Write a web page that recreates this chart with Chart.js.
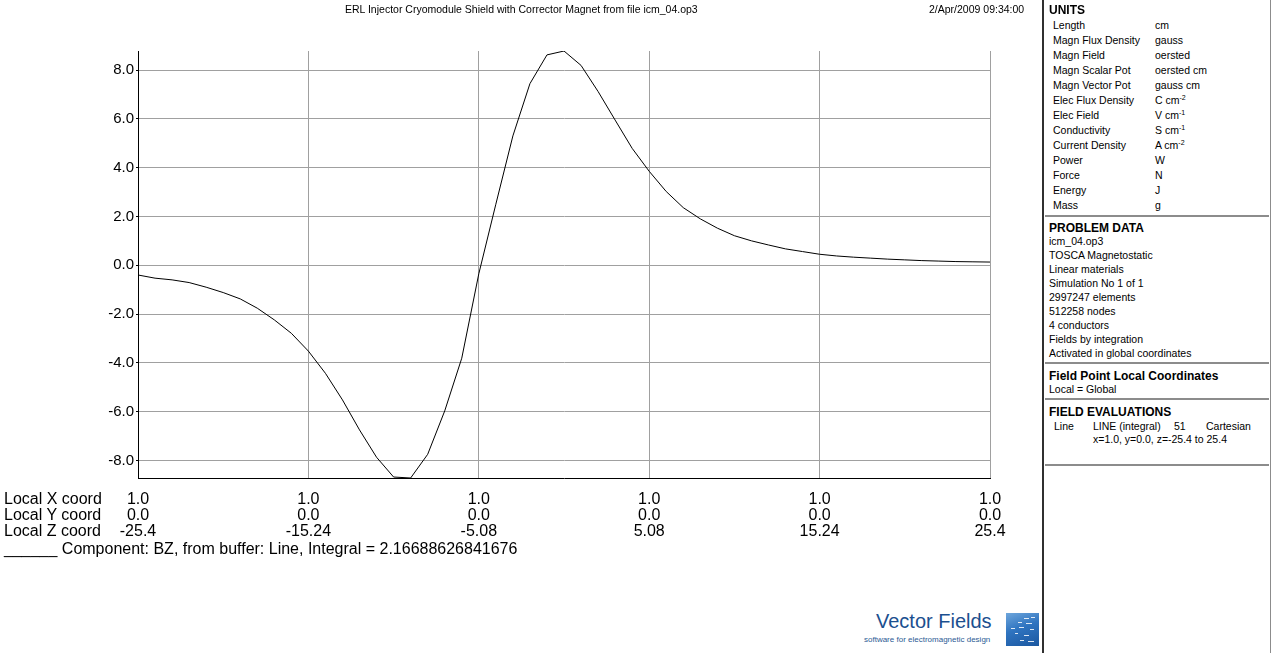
<!DOCTYPE html>
<html>
<head>
<meta charset="utf-8">
<title>ERL Injector Cryomodule Shield - BZ</title>
<script src="https://cdn.jsdelivr.net/npm/chart.js@4.4.1/dist/chart.umd.min.js"></script>
<style>
    body {
        margin: 0;
        width: 1272px;
        height: 653px;
        position: relative;
        overflow: hidden;
        background: #ffffff;
        font-family: Arial, "Liberation Sans", sans-serif;
        color: #000;
    }
    .abs { position: absolute; white-space: nowrap; }
    .small { font-size: 10.5px; line-height: 14px; }
    .axis-text { font-size: 16px; line-height: 16px; }
    .head { font-size: 12px; font-weight: bold; line-height: 14px; }
    .sep { position: absolute; left: 1045px; width: 224px; height: 2px; background: #8c8c8c; }
    sup { font-size: 7px; vertical-align: 4px; line-height: 0; }
    #panel-left { position: absolute; left: 1042px; top: 0; width: 2px; height: 653px; background: #303030; }
    #panel-right { position: absolute; left: 1270px; top: 0; width: 1px; height: 653px; background: #8c8c8c; }
    #logo-box {
        position: absolute; left: 1006px; top: 613px; width: 33px; height: 33px;
        background: linear-gradient(160deg, #6ea6dc 0%, #2f74c0 45%, #1b57a0 100%);
        overflow: hidden;
    }
    #logo-box span { position: absolute; height: 1px; background: #ffffff; opacity: 0.85; }
</style>
</head>
<body>
<canvas id="bz-chart" width="1040" height="570" style="position:absolute;left:0;top:0"></canvas>

<div class="abs small" style="left:345px;top:2px">ERL Injector Cryomodule Shield with Corrector Magnet from file icm_04.op3</div>
<div class="abs small" style="left:929px;top:2px">2/Apr/2009 09:34:00</div>

<div class="abs axis-text" style="left:4px;top:491px">Local X coord</div>
<div class="abs axis-text" style="left:4px;top:507px">Local Y coord</div>
<div class="abs axis-text" style="left:4px;top:523px">Local Z coord</div>
<div class="abs axis-text" style="left:4px;top:541px">______ Component: BZ, from buffer: Line, Integral = 2.16688626841676</div>

<div id="panel-left"></div>
<div id="panel-right"></div>
<div id="panel"></div>

<div class="abs" style="left:876px;top:609px;font-size:20px;line-height:24px;color:#1b4f8f">Vector Fields</div>
<div class="abs" style="left:864px;top:635px;font-size:8px;line-height:10px;color:#2b5a94">software for electromagnetic design</div>
<div id="logo-box">
    <span style="left:18px;top:5px;width:5px"></span>
    <span style="left:25px;top:4px;width:4px"></span>
    <span style="left:12px;top:9px;width:4px"></span>
    <span style="left:20px;top:10px;width:6px"></span>
    <span style="left:5px;top:15px;width:4px"></span>
    <span style="left:13px;top:14px;width:5px"></span>
    <span style="left:24px;top:16px;width:4px"></span>
    <span style="left:9px;top:20px;width:3px"></span>
    <span style="left:18px;top:22px;width:5px"></span>
    <span style="left:14px;top:27px;width:4px"></span>
    <span style="left:22px;top:28px;width:6px"></span>
</div>

<script>
// BZ along the line x=1.0, y=0.0, z=-25.4 to 25.4 (51 points)
const zPositions = [
    -25.4, -24.384, -23.368, -22.352, -21.336, -20.32, -19.304, -18.288, -17.272, -16.256,
    -15.24, -14.224, -13.208, -12.192, -11.176, -10.16, -9.144, -8.128, -7.112, -6.096,
    -5.08, -4.064, -3.048, -2.032, -1.016, 0, 1.016, 2.032, 3.048, 4.064,
    5.08, 6.096, 7.112, 8.128, 9.144, 10.16, 11.176, 12.192, 13.208, 14.224,
    15.24, 16.256, 17.272, 18.288, 19.304, 20.32, 21.336, 22.352, 23.368, 24.384, 25.4
];
const bzValues = [
    -0.40, -0.53, -0.60, -0.71, -0.90, -1.12, -1.38, -1.76, -2.24, -2.79,
    -3.52, -4.43, -5.52, -6.75, -7.87, -8.68, -8.72, -7.75, -5.97, -3.81,
    -0.35, 2.50, 5.30, 7.44, 8.62, 8.78, 8.19, 7.12, 5.95, 4.79,
    3.85, 3.02, 2.36, 1.90, 1.52, 1.21, 1.00, 0.83, 0.67, 0.56,
    0.45, 0.38, 0.33, 0.29, 0.25, 0.22, 0.19, 0.17, 0.15, 0.14, 0.13
];

const yTicks = [-8, -6, -4, -2, 0, 2, 4, 6, 8];
const zTicks = [-25.4, -15.24, -5.08, 5.08, 15.24, 25.4];
const zTickLabels = ['-25.4', '-15.24', '-5.08', '5.08', '15.24', '25.4'];
const xCoordLabels = ['1.0', '1.0', '1.0', '1.0', '1.0', '1.0'];
const yCoordLabels = ['0.0', '0.0', '0.0', '0.0', '0.0', '0.0'];
const yMin = -8.72;
const yMax = 8.78;

const unitRows = [
    ['Length', 'cm'],
    ['Magn Flux Density', 'gauss'],
    ['Magn Field', 'oersted'],
    ['Magn Scalar Pot', 'oersted cm'],
    ['Magn Vector Pot', 'gauss cm'],
    ['Elec Flux Density', 'C cm<sup>-2</sup>'],
    ['Elec Field', 'V cm<sup>-1</sup>'],
    ['Conductivity', 'S cm<sup>-1</sup>'],
    ['Current Density', 'A cm<sup>-2</sup>'],
    ['Power', 'W'],
    ['Force', 'N'],
    ['Energy', 'J'],
    ['Mass', 'g']
];
const problemRows = [
    'icm_04.op3',
    'TOSCA Magnetostatic',
    'Linear materials',
    'Simulation No 1 of 1',
    '2997247 elements',
    '512258 nodes',
    '4 conductors',
    'Fields by integration',
    'Activated in global coordinates'
];

function addText(parent, cls, left, centerY, html) {
    const div = document.createElement('div');
    div.className = 'abs ' + cls;
    div.style.left = left + 'px';
    div.style.top = (centerY - 7) + 'px';
    div.innerHTML = html;
    parent.appendChild(div);
}

function addSeparator(parent, y) {
    const div = document.createElement('div');
    div.className = 'sep';
    div.style.top = y + 'px';
    parent.appendChild(div);
}

function renderPanel() {
    const panel = document.getElementById('panel');

    addText(panel, 'head', 1049, 10, 'UNITS');
    unitRows.forEach((row, i) => {
        addText(panel, 'small', 1053, 25 + i * 15, row[0]);
        addText(panel, 'small', 1155, 25 + i * 15, row[1]);
    });
    addSeparator(panel, 215);

    addText(panel, 'head', 1049, 228, 'PROBLEM DATA');
    problemRows.forEach((row, i) => {
        addText(panel, 'small', 1049, 241 + i * 14, row);
    });
    addSeparator(panel, 362);

    addText(panel, 'head', 1049, 376, 'Field Point Local Coordinates');
    addText(panel, 'small', 1049, 389, 'Local = Global');
    addSeparator(panel, 398);

    addText(panel, 'head', 1049, 412, 'FIELD EVALUATIONS');
    addText(panel, 'small', 1054, 426, 'Line');
    addText(panel, 'small', 1093, 426, 'LINE (integral)');
    addText(panel, 'small', 1174, 426, '51');
    addText(panel, 'small', 1206, 426, 'Cartesian');
    addText(panel, 'small', 1093, 439, 'x=1.0, y=0.0, z=-25.4 to 25.4');
    addSeparator(panel, 464);
}

function createChart() {
    const ctx = document.getElementById('bz-chart').getContext('2d');
    const fontFamily = 'Arial, "Liberation Sans", sans-serif';

    new Chart(ctx, {
        type: 'line',
        data: {
            datasets: [{
                label: 'BZ',
                data: zPositions.map((z, i) => ({ x: z, y: bzValues[i] })),
                borderColor: '#000000',
                borderWidth: 1,
                pointRadius: 0,
                tension: 0,
                fill: false
            }]
        },
        options: {
            responsive: false,
            animation: false,
            devicePixelRatio: 1,
            events: [],
            layout: {
                padding: { top: 51, right: 50, left: 0, bottom: 0 }
            },
            plugins: {
                legend: { display: false },
                tooltip: { enabled: false }
            },
            scales: {
                x: {
                    type: 'linear',
                    min: zTicks[0],
                    max: zTicks[zTicks.length - 1],
                    afterBuildTicks: scale => {
                        scale.ticks = zTicks.map(v => ({ value: v }));
                    },
                    afterFit: scale => {
                        scale.height = 92;
                    },
                    grid: {
                        color: '#a0a0a0',
                        lineWidth: 1,
                        drawTicks: false
                    },
                    border: { color: '#000000', width: 1 },
                    ticks: {
                        color: '#000000',
                        font: { family: fontFamily, size: 16, lineHeight: '16px' },
                        padding: 14,
                        maxRotation: 0,
                        autoSkip: false,
                        callback: (value, index) => [xCoordLabels[index], yCoordLabels[index], zTickLabels[index]]
                    }
                },
                y: {
                    type: 'linear',
                    min: yMin,
                    max: yMax,
                    afterBuildTicks: scale => {
                        scale.ticks = yTicks.map(v => ({ value: v }));
                    },
                    afterFit: scale => {
                        scale.width = 138;
                    },
                    grid: {
                        color: '#a0a0a0',
                        lineWidth: 1,
                        tickColor: '#000000',
                        tickLength: 2
                    },
                    border: { color: '#000000', width: 1 },
                    ticks: {
                        color: '#000000',
                        font: { family: fontFamily, size: 15 },
                        padding: 2,
                        callback: value => value.toFixed(1)
                    }
                }
            }
        }
    });
}

document.addEventListener('DOMContentLoaded', function() {
    renderPanel();
    createChart();
});
</script>
</body>
</html>
